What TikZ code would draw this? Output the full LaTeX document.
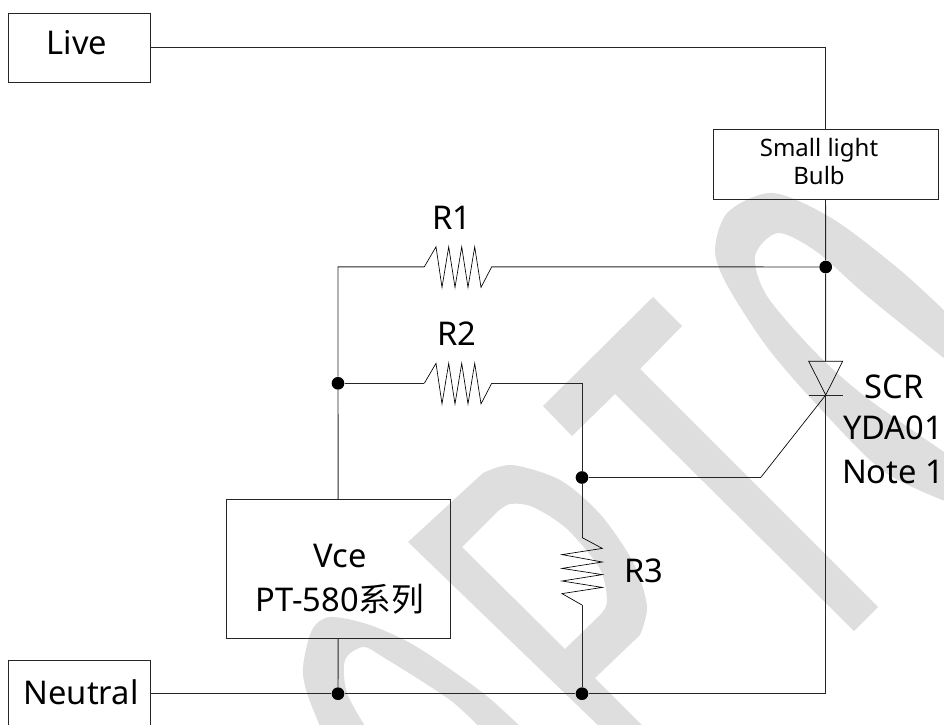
\documentclass[tikz,border=0pt]{standalone}
\usepackage{fontspec}
\setmainfont{Noto Sans}
\newfontfamily\cjkfont{Noto Sans CJK SC}
\begin{document}
\begin{tikzpicture}[x=0.75pt,y=-0.75pt,
  wire/.style={line width=0.7pt,black!85,line join=miter},
  thinwire/.style={line width=0.5pt,black},
  boxnode/.style={draw=black!85,line width=0.7pt,inner sep=0pt},
  junction/.style={circle,fill=black,inner sep=0pt,minimum size=9.5pt},
  lbl/.style={inner sep=0pt,align=center,font=\fontsize{24.5}{33}\selectfont},
  wm/.style={fill=black!13,draw=none,even odd rule}]
\clip (0,0) rectangle (944,724);
% watermark
\fill[wm] (653,297) -- (682,326) -- (640,369) -- (878,607) -- (854,631) -- (615,394) -- (572,436) -- (543,406) -- cycle;
\fill[wm] (408,542) -- plot[smooth] coordinates {(483,473)(512,465)(560,480)(600,514)(633,562)(647,606)(640,635)} -- (595,678) -- (648,731) -- (604,731) -- cycle
  (462,547) -- (565,649) -- plot[smooth] coordinates {(600,615)(607,602)(600,569)(567,529)(533,507)(510,504)(497,512)} -- cycle;
\fill[wm] plot[smooth] coordinates {(322,731)(307,693)(303,667)(312,630)(330,617)(370,625)(417,647)(483,693)(525,731)}
  -- plot[smooth] coordinates {(483,731)(450,700)(383,657)(363,647)(345,660)(347,693)(368,731)} -- cycle;
\fill[wm] plot[smooth] coordinates {(950,316)(900,270)(833,219)(773,193)(728,212)(715,250)(727,285)(767,347)(817,405)(883,471)(950,503)}
  -- plot[smooth] coordinates {(950,456)(867,398)(817,354)(767,296)(755,256)(778,233)(817,252)(867,296)(950,363)} -- cycle;
% boxes
\node[boxnode,minimum width=106.2pt,minimum height=52.1pt] (live) at (79.25,47.75) {};
\node[boxnode,minimum width=106.2pt,minimum height=50.5pt] (neutral) at (79.25,693.7) {};
\node[boxnode,minimum width=168.2pt,minimum height=103.9pt] (vce) at (338.1,568.8) {};
\node[boxnode,minimum width=168.7pt,minimum height=52.5pt] (bulb) at (825.5,164) {};
% box texts
\node[lbl] (livetext) at (77,43) {Live};
\node[lbl] (neutraltext) at (81,692.5) {Neutral};
\node[lbl] (vcetext) at (340,579) {Vce\\PT-580{\cjkfont 系列}};
\node[inner sep=0pt,align=center,font=\fontsize{18}{21.7}\selectfont] (bulbtext) at (819,161.5) {Small light\\Bulb};
% junctions
\node[junction] (j1) at (825.7,267) {};
\node[junction] (j2) at (338,383.3) {};
\node[junction] (j3) at (582,477.5) {};
\node[junction] (j4) at (338,693.7) {};
\node[junction] (j5) at (582,693.7) {};
\coordinate (corner1) at (338,266.8);
\coordinate (corner2) at (582,383.3);
\coordinate (corner3) at (825.7,693.7);
\coordinate (gate) at (760.7,477.5);
\coordinate (apex) at (825.7,395);
\coordinate (anode) at (825.7,361.3);
\coordinate (r1a) at (424.3,266.8);
\coordinate (r1b) at (491.7,266.8);
\coordinate (r2a) at (424.3,383.3);
\coordinate (r2b) at (491.7,383.3);
\coordinate (r3a) at (582,537.5);
\coordinate (r3b) at (582,605);
% labels
\node[lbl] (lr1) at (451.7,218) {R1};
\node[lbl] (lr2) at (456.7,333.5) {R2};
\node[lbl] (lr3) at (644,571) {R3};
\node[lbl] (lscr) at (894,387) {SCR};
\node[lbl] (lyda) at (893,428) {YDA01};
\node[lbl] (lnote) at (893,472) {Note 1};
% wires
\draw[wire] (live.east) -- (live.east -| bulb) -- (bulb.north);
\draw[wire] (bulb.south) -- (j1) -- (anode);
\draw[wire] (apex) -- (corner3) -- (j5) -- (j4) -- (neutral.east);
\draw[wire] (j1) -- (r1b);
\draw[wire] (r1a) -- (corner1) -- (j2) -- (vce.north);
\draw[wire] (j2) -- (r2a);
\draw[wire] (r2b) -- (corner2) -- (j3) -- (r3a);
\draw[wire] (r3b) -- (j5);
\draw[wire] (vce.south) -- (j4);
\draw[wire] (j3) -- (gate);
\draw[thinwire] (gate) -- (apex);
% resistors
\draw[thinwire,line join=miter] (r1a) -- ++(11.7,-20) -- ++(6,40.6) -- ++(6.7,-40.6) -- ++(6.3,40.6) -- ++(6.7,-40.6) -- ++(6.3,40.6) -- ++(6.7,-40.6) -- ++(6.3,40.6) -- (r1b);
\draw[thinwire,line join=miter] (r2a) -- ++(11.7,-20) -- ++(6,40.6) -- ++(6.7,-40.6) -- ++(6.3,40.6) -- ++(6.7,-40.6) -- ++(6.3,40.6) -- ++(6.7,-40.6) -- ++(6.3,40.6) -- (r2b);
\draw[thinwire,line join=miter] (r3a) -- ++(20.3,10.9) -- ++(-40.3,6.2) -- ++(40.3,7.4) -- ++(-40.3,6.4) -- ++(40.3,6.2) -- ++(-40.3,6.4) -- ++(40.3,6.4) -- ++(-40.3,6.2) -- (r3b);
% SCR
\draw[thinwire,line join=miter] (808.7,361.3) -- (842.7,361.3) -- (apex) -- cycle;
\draw[wire] (808.7,395) -- (842.7,395);
\end{tikzpicture}
\end{document}
